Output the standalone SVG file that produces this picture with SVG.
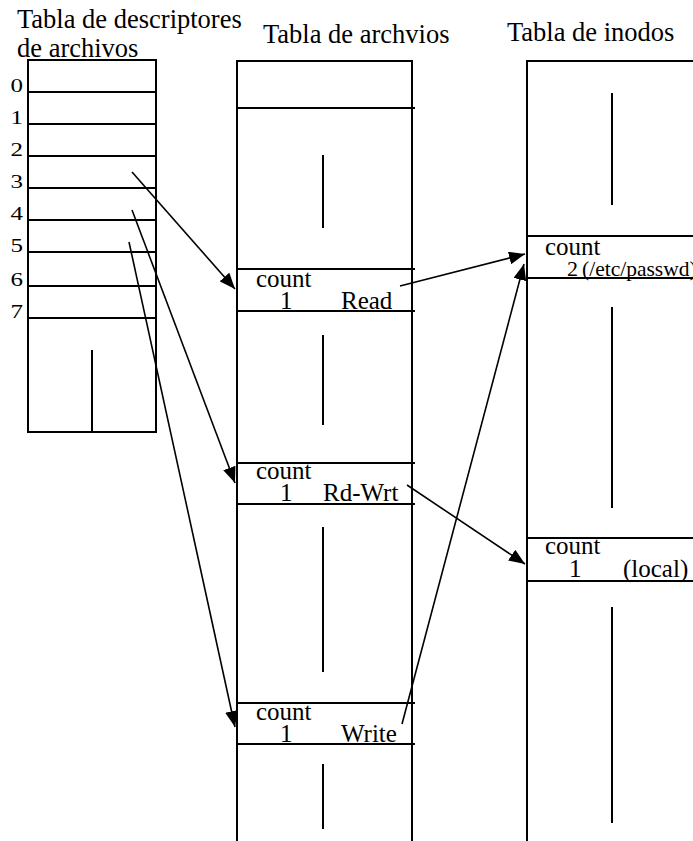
<svg xmlns="http://www.w3.org/2000/svg" width="693" height="841" viewBox="0 0 693 841">
<style>
  text { font-family: "Liberation Serif", "Times New Roman", serif; fill: #000; }
  .t { font-size: 26.5px; }
  .c { font-size: 25px; }
  .s { font-size: 21.5px; }
  .ln { stroke: #000; stroke-width: 2; fill: none; }
  .ar { stroke: #000; stroke-width: 1.6; fill: none; marker-end: url(#ah); }
</style>
<defs>
  <marker id="ah" markerUnits="userSpaceOnUse" markerWidth="17" markerHeight="13" refX="16" refY="6.5" orient="auto">
    <path d="M0,0 L16,6.5 L0,13 z" fill="#000"/>
  </marker>
</defs>
<rect width="693" height="841" fill="#fff"/>

<g id="fd-table">
  <text class="t" x="17" y="28">Tabla de descriptores</text>
  <text class="t" x="17" y="57">de archivos</text>
  <rect class="ln" x="28" y="60" width="128" height="372"/>
  <path class="ln" d="M28 92H156M28 124H156M28 156H156M28 188H156M28 220H156M28 252H156M28 286H156M28 318H156M92 350V431"/>
  <g class="c">
    <text transform="translate(10.5 91.5) scale(1 0.76)">0</text>
    <text transform="translate(10.5 123.5) scale(1 0.76)">1</text>
    <text transform="translate(10.5 155.5) scale(1 0.76)">2</text>
    <text transform="translate(10.5 187.5) scale(1 0.76)">3</text>
    <text transform="translate(10.5 219.5) scale(1 0.76)">4</text>
    <text transform="translate(10.5 251.5) scale(1 0.76)">5</text>
    <text transform="translate(10.5 285.5) scale(1 0.76)">6</text>
    <text transform="translate(10.5 317.5) scale(1 0.76)">7</text>
  </g>
</g>

<g id="file-table">
  <text class="t" x="263" y="43">Tabla de archvios</text>
  <path class="ln" d="M237 841V61H412V841"/>
  <path class="ln" d="M237 108H415M237 269H415M237 311H415M237 463H415M237 504H415M237 703H415M237 744H415"/>
  <path class="ln" d="M323 155V228M323 335V425M323 527V672M323 764V829"/>
</g>

<g id="file-entry-read">
  <text class="c" x="256" y="287">count</text>
  <text class="c" x="280" y="309">1</text>
  <text class="c" x="341" y="309">Read</text>
</g>
<g id="file-entry-rdwrt">
  <text class="c" x="256" y="479">count</text>
  <text class="c" x="280" y="501">1</text>
  <text class="c" x="323" y="501">Rd-Wrt</text>
</g>
<g id="file-entry-write">
  <text class="c" x="256" y="720">count</text>
  <text class="c" x="280" y="742">1</text>
  <text class="c" x="341" y="742">Write</text>
</g>

<g id="inode-table">
  <text class="t" x="507" y="41">Tabla de inodos</text>
  <path class="ln" d="M527 841V61H693"/>
  <path class="ln" d="M527 236H693M527 278H693M527 538H693M527 581H693"/>
  <path class="ln" d="M612 93V205M612 307V508M612 607V823"/>
</g>
<g id="inode-passwd">
  <text class="c" x="545" y="255">count</text>
  <text x="567" y="276" style="font-size:22px">2</text>
  <text class="s" x="582" y="276">(/etc/passwd)</text>
</g>
<g id="inode-local">
  <text class="c" x="545" y="554">count</text>
  <text class="c" x="569" y="577">1</text>
  <text class="c" x="623" y="577">(local)</text>
</g>

<g id="connectors">
  <line class="ar" x1="132" y1="172" x2="235" y2="289"/>
  <line class="ar" x1="132" y1="210" x2="235" y2="483"/>
  <line class="ar" x1="129" y1="242" x2="235" y2="727"/>
  <line class="ar" x1="400" y1="286" x2="525" y2="254"/>
  <line class="ar" x1="402" y1="724" x2="524" y2="264"/>
  <line class="ar" x1="407" y1="485" x2="525" y2="564"/>
</g>
</svg>
